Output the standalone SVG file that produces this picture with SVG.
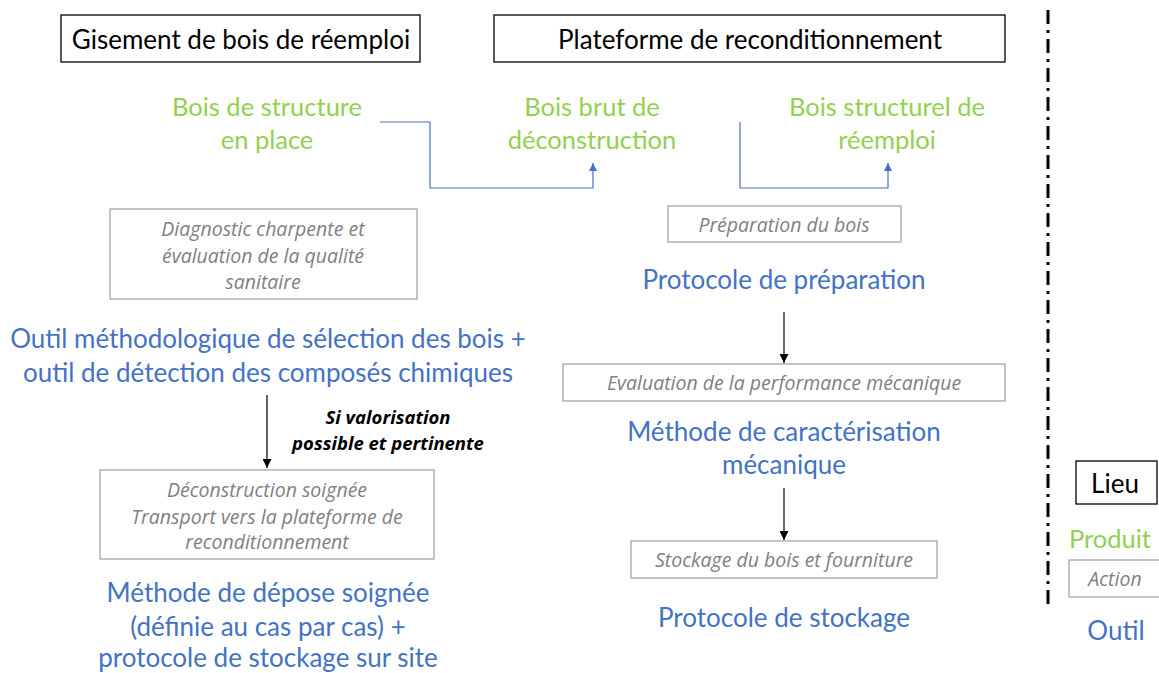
<svg xmlns="http://www.w3.org/2000/svg" width="1159" height="673" viewBox="0 0 1159 673">
<defs>
<style>
text{font-family:Lato,"Open Sans","Liberation Sans",sans-serif;text-anchor:middle;dominant-baseline:central}
.lieu{fill:#fff;stroke:#000;stroke-width:1.3}
.lt{font-size:26px;fill:#000}
.act{fill:#fff;stroke:#A6A6A6;stroke-width:1.3}
.at{font-family:"Open Sans",Lato,sans-serif;font-size:19.5px;font-style:italic;fill:#7F7F7F}
.prod{font-size:25.5px;fill:#92D050}
.outil{font-size:26px;fill:#4472C4}
.cond{font-family:"Open Sans",Lato,sans-serif;font-size:18.5px;font-style:italic;font-weight:bold;fill:#000}
.blue{fill:none;stroke:#4472C4;stroke-width:1.2}
.black{fill:none;stroke:#000;stroke-width:1.2}
</style>
<marker id="ab" viewBox="0 0 10 10" refX="10" refY="5" markerWidth="8" markerHeight="8" markerUnits="userSpaceOnUse" orient="auto"><path d="M0,0L10,5L0,10z" fill="#4472C4"/></marker>
<marker id="ak" viewBox="0 0 10 10" refX="10" refY="5" markerWidth="9" markerHeight="9" markerUnits="userSpaceOnUse" orient="auto"><path d="M0,0L10,5L0,10z" fill="#000"/></marker>
</defs>
<rect width="1159" height="673" fill="#fff"/>
<g id="lieu-gisement"><rect class="lieu" x="61" y="15" width="359" height="47"/><text class="lt" x="241" y="39">Gisement de bois de réemploi</text></g>
<g id="lieu-plateforme"><rect class="lieu" x="494" y="15" width="511" height="47"/><text class="lt" x="750" y="39">Plateforme de reconditionnement</text></g>
<g id="produit-place"><text class="prod" x="267" y="106">Bois de structure</text><text class="prod" x="267" y="139">en place</text></g>
<g id="produit-brut"><text class="prod" x="592" y="106">Bois brut de</text><text class="prod" x="592" y="139">déconstruction</text></g>
<g id="produit-reemploi"><text class="prod" x="887" y="106">Bois structurel de</text><text class="prod" x="887" y="139">réemploi</text></g>
<g id="action-diagnostic"><rect class="act" x="110" y="209" width="307" height="90"/><text class="at" x="263" y="228">Diagnostic charpente et</text><text class="at" x="263" y="255">évaluation de la qualité</text><text class="at" x="263" y="281">sanitaire</text></g>
<g id="outil-selection"><text class="outil" x="268" y="338">Outil méthodologique de sélection des bois +</text><text class="outil" x="268" y="372">outil de détection des composés chimiques</text></g>
<g id="condition"><text class="cond" x="388" y="416">Si valorisation</text><text class="cond" x="388" y="442">possible et pertinente</text></g>
<g id="action-deconstruction"><rect class="act" x="100" y="470" width="334" height="89"/><text class="at" x="267" y="489">Déconstruction soignée</text><text class="at" x="267" y="516">Transport vers la plateforme de</text><text class="at" x="267" y="541">reconditionnement</text></g>
<g id="outil-depose"><text class="outil" x="268" y="592">Méthode de dépose soignée</text><text class="outil" x="268" y="626">(définie au cas par cas) +</text><text class="outil" x="268" y="657">protocole de stockage sur site</text></g>
<g id="action-preparation"><rect class="act" x="668" y="206" width="233" height="36"/><text class="at" x="784" y="224">Préparation du bois</text></g>
<g id="outil-preparation"><text class="outil" x="784" y="279">Protocole de préparation</text></g>
<g id="action-evaluation"><rect class="act" x="563" y="364" width="442" height="37"/><text class="at" x="784" y="382">Evaluation de la performance mécanique</text></g>
<g id="outil-caracterisation"><text class="outil" x="784" y="431">Méthode de caractérisation</text><text class="outil" x="784" y="464">mécanique</text></g>
<g id="action-stockage"><rect class="act" x="631" y="541" width="306" height="37"/><text class="at" x="784" y="559">Stockage du bois et fourniture</text></g>
<g id="outil-stockage"><text class="outil" x="784" y="617">Protocole de stockage</text></g>
<g id="separateur"><line x1="1048" y1="10" x2="1048" y2="606" stroke="#000" stroke-width="3" stroke-dasharray="14,6,3,6"/></g>
<g id="legende">
<rect class="lieu" x="1076" y="461" width="81" height="43"/><text class="lt" x="1115" y="483">Lieu</text>
<text class="prod" x="1110" y="538">Produit</text>
<rect class="act" x="1069" y="560" width="95" height="37"/><text class="at" x="1115" y="578">Action</text>
<text class="outil" x="1116" y="630">Outil</text>
</g>
<g id="connecteurs">
<path class="blue" d="M380,122H430V188H593V163" marker-end="url(#ab)"/>
<path class="blue" d="M740,122V188H888V163" marker-end="url(#ab)"/>
<path class="black" d="M267,395V468" marker-end="url(#ak)"/>
<path class="black" d="M784,312V363" marker-end="url(#ak)"/>
<path class="black" d="M784,488V540" marker-end="url(#ak)"/>
</g>
</svg>
